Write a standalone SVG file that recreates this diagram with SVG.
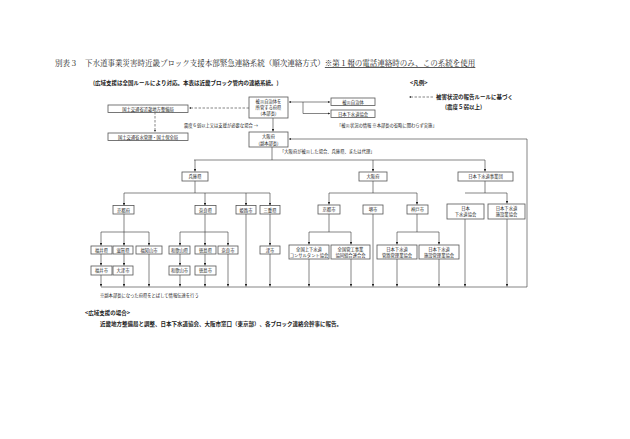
<svg xmlns="http://www.w3.org/2000/svg" width="630" height="439" viewBox="0 0 630 439">
<defs>
<marker id="a" viewBox="0 0 6 6" refX="6" refY="3" markerWidth="4" markerHeight="4" orient="auto-start-reverse"><path d="M0,0L6,3L0,6z" fill="#222"/></marker>
</defs>
<style>
text{font-family:"Noto Sans CJK JP",sans-serif;fill:#222}
.t{font-family:"Noto Serif CJK JP","Noto Sans CJK JP",serif;font-size:7.5px}
.s{font-size:4.3px;text-anchor:middle}
.n{font-size:4.3px}
.b{font-size:5.5px;font-weight:bold}
rect{fill:#fff;stroke:#555;stroke-width:0.8}
.c line,.c path{stroke:#333;stroke-width:0.6;fill:none}
.d{stroke-dasharray:2.5,1.5}
</style>
<rect x="0" y="0" width="630" height="439" style="fill:#fff;stroke:none"/>
<text class="t" x="55" y="66">別表３　下水道事業災害時近畿ブロック支援本部緊急連絡系統（順次連絡方式）<tspan text-decoration="underline">※第１報の電話連絡時のみ、この系統を使用</tspan></text>
<text class="b" x="93" y="85">(広域支援は全国ルールにより対応。本表は近畿ブロック管内の連絡系統。)</text>
<text class="b" x="410" y="85">&lt;凡例&gt;</text>
<text class="b" x="436" y="99">被害状況の報告ルールに基づく</text>
<text class="b" x="445" y="109">(震度５弱以上)</text>
<text class="n" x="184" y="127">震度６弱以上又は支援が必要な場合 →</text>
<text class="n" x="337" y="127">「被災状況の情報 ※本部長の省略に関わらず実施」</text>
<text class="n" x="280" y="153">「大阪府が被災した場合、兵庫県、または代理」</text>
<text class="n" x="100" y="297">※副本部長になった府県をとばして情報伝達を行う</text>
<text class="b" x="85" y="315">&lt;広域支援の場合&gt;</text>
<text class="b" x="100" y="326">近畿地方整備局と調整、日本下水道協会、大阪市窓口（東京部）、各ブロック連絡会幹事に報告。</text>
<g class="c">
<line class="d" x1="433" y1="97" x2="409" y2="97" marker-end="url(#a)"/>
<line class="d" x1="249" y1="108" x2="189" y2="108" marker-end="url(#a)"/>
<line class="d" x1="155" y1="112" x2="155" y2="132" marker-end="url(#a)"/>
<line x1="289" y1="102" x2="330" y2="102" marker-start="url(#a)" marker-end="url(#a)"/>
<path d="M303,102V113.5H330" marker-end="url(#a)"/>
<line x1="273" y1="118" x2="273" y2="131.5" marker-end="url(#a)"/>
<path d="M101,287H527V139H289" marker-end="url(#a)"/>
<path d="M272,147V160"/>
<line x1="194" y1="160" x2="485" y2="160"/>
<line x1="195" y1="160" x2="195" y2="171.5" marker-end="url(#a)"/>
<line x1="373" y1="160" x2="373" y2="171.5" marker-end="url(#a)"/>
<line x1="485" y1="160" x2="485" y2="171.5" marker-end="url(#a)"/>
<path d="M195,181V193M124,193H270"/>
<line x1="124" y1="193" x2="124" y2="205.5" marker-end="url(#a)"/>
<line x1="205" y1="193" x2="205" y2="205.5" marker-end="url(#a)"/>
<line x1="246" y1="193" x2="246" y2="205.5" marker-end="url(#a)"/>
<line x1="270" y1="193" x2="270" y2="205.5" marker-end="url(#a)"/>
<path d="M124,214V232M101,232H149M205,214V232M180,232H228"/>
<line x1="101" y1="232" x2="101" y2="245.5" marker-end="url(#a)"/>
<line x1="124" y1="232" x2="124" y2="245.5" marker-end="url(#a)"/>
<line x1="149" y1="232" x2="149" y2="245.5" marker-end="url(#a)"/>
<line x1="180" y1="232" x2="180" y2="245.5" marker-end="url(#a)"/>
<line x1="205" y1="232" x2="205" y2="245.5" marker-end="url(#a)"/>
<line x1="228" y1="232" x2="228" y2="245.5" marker-end="url(#a)"/>
<line x1="270" y1="214" x2="270" y2="245.5" marker-end="url(#a)"/>
<line x1="101" y1="254" x2="101" y2="265.5" marker-end="url(#a)"/>
<line x1="124" y1="254" x2="124" y2="265.5" marker-end="url(#a)"/>
<line x1="180" y1="254" x2="180" y2="265.5" marker-end="url(#a)"/>
<line x1="205" y1="254" x2="205" y2="265.5" marker-end="url(#a)"/>
<line x1="101" y1="275" x2="101" y2="286.5" marker-end="url(#a)"/>
<line x1="124" y1="275" x2="124" y2="286.5" marker-end="url(#a)"/>
<line x1="149" y1="254" x2="149" y2="286.5" marker-end="url(#a)"/>
<line x1="180" y1="275" x2="180" y2="286.5" marker-end="url(#a)"/>
<line x1="205" y1="275" x2="205" y2="286.5" marker-end="url(#a)"/>
<line x1="228" y1="254" x2="228" y2="286.5" marker-end="url(#a)"/>
<line x1="246" y1="214" x2="246" y2="286.5" marker-end="url(#a)"/>
<line x1="270" y1="254" x2="270" y2="286.5" marker-end="url(#a)"/>
<path d="M373,181V193M329,193H417"/>
<line x1="329" y1="193" x2="329" y2="204.5" marker-end="url(#a)"/>
<line x1="417" y1="193" x2="417" y2="204.5" marker-end="url(#a)"/>
<path d="M329,214V232M309,232H351M417,214V232M397,232H439"/>
<line x1="309" y1="232" x2="309" y2="244.5" marker-end="url(#a)"/>
<line x1="351" y1="232" x2="351" y2="244.5" marker-end="url(#a)"/>
<line x1="397" y1="232" x2="397" y2="244.5" marker-end="url(#a)"/>
<line x1="439" y1="232" x2="439" y2="244.5" marker-end="url(#a)"/>
<line x1="309" y1="259" x2="309" y2="286.5" marker-end="url(#a)"/>
<line x1="351" y1="259" x2="351" y2="286.5" marker-end="url(#a)"/>
<line x1="373" y1="214" x2="373" y2="286.5" marker-end="url(#a)"/>
<line x1="397" y1="259" x2="397" y2="286.5" marker-end="url(#a)"/>
<line x1="439" y1="259" x2="439" y2="286.5" marker-end="url(#a)"/>
<path d="M485,181V193M465,193H507"/>
<line x1="507" y1="193" x2="507" y2="203.5" marker-end="url(#a)"/>
<line x1="465" y1="219" x2="465" y2="286.5" marker-end="url(#a)"/>
<line x1="507" y1="219" x2="507" y2="286.5" marker-end="url(#a)"/>
</g>
<g id="kinki"><rect x="108" y="105" width="80" height="7.5"/><text class="s" x="148" y="110.5">国土交通省近畿地方整備局</text></g>
<g id="mlit"><rect x="108" y="133" width="80" height="7.5"/><text class="s" x="148" y="138.5">国土交通省水管理・国土保全局</text></g>
<g id="fuken"><rect x="249" y="97" width="39" height="21"/><text class="s" x="268.5" y="103">被災自治体を</text><text class="s" x="268.5" y="109">所管する府県</text><text class="s" x="268.5" y="115">(本部長)</text></g>
<g id="hisai"><rect x="331" y="98" width="44" height="7.5"/><text class="s" x="353" y="103.5">被災自治体</text></g>
<g id="jswa"><rect x="331" y="110" width="44" height="7.5"/><text class="s" x="353" y="115.5">日本下水道協会</text></g>
<g id="osaka-hq"><rect x="249" y="132" width="39" height="15"/><text class="s" x="268.5" y="138">大阪府</text><text class="s" x="268.5" y="144.5">(副本部長)</text></g>
<g id="hyogo"><rect x="182" y="172" width="26" height="9"/><text class="s" x="195" y="178">兵庫県</text></g>
<g id="osaka"><rect x="359" y="172" width="28" height="9"/><text class="s" x="373" y="178">大阪府</text></g>
<g id="jswa2"><rect x="458" y="172" width="55" height="9"/><text class="s" x="485.5" y="178">日本下水道事業団</text></g>
<g id="kyotofu"><rect x="113" y="205.5" width="21" height="8.5"/><text class="s" x="123.5" y="211.5">京都府</text></g>
<g id="nara"><rect x="195" y="205.5" width="21" height="8.5"/><text class="s" x="205.5" y="211.5">奈良県</text></g>
<g id="himeji"><rect x="236" y="205.5" width="20" height="8.5"/><text class="s" x="246" y="211.5">姫路市</text></g>
<g id="mie"><rect x="260" y="205.5" width="20" height="8.5"/><text class="s" x="270" y="211.5">三重県</text></g>
<g id="fukui"><rect x="91" y="246" width="21" height="8"/><text class="s" x="101.5" y="251.8">福井県</text></g>
<g id="shiga"><rect x="113" y="246" width="20" height="8"/><text class="s" x="123" y="251.8">滋賀県</text></g>
<g id="fukuchiyama"><rect x="136" y="246" width="26" height="8"/><text class="s" x="149" y="251.8">福知山市</text></g>
<g id="wakayama"><rect x="169" y="246" width="21" height="8"/><text class="s" x="179.5" y="251.8">和歌山県</text></g>
<g id="tokushima"><rect x="195" y="246" width="21" height="8"/><text class="s" x="205.5" y="251.8">徳島県</text></g>
<g id="narashi"><rect x="218" y="246" width="20" height="8"/><text class="s" x="228" y="251.8">奈良市</text></g>
<g id="tsu"><rect x="260" y="246" width="20" height="8"/><text class="s" x="270" y="251.8">津市</text></g>
<g id="fukuishi"><rect x="91" y="266" width="21" height="9"/><text class="s" x="101.5" y="272.2">福井市</text></g>
<g id="otsu"><rect x="113" y="266" width="20" height="9"/><text class="s" x="123" y="272.2">大津市</text></g>
<g id="wakayamashi"><rect x="169" y="266" width="21" height="9"/><text class="s" x="179.5" y="272.2">和歌山市</text></g>
<g id="tokushimashi"><rect x="195" y="266" width="21" height="9"/><text class="s" x="205.5" y="272.2">徳島市</text></g>
<g id="kyotoshi"><rect x="318" y="205" width="22" height="9"/><text class="s" x="329" y="211">京都市</text></g>
<g id="sakai"><rect x="363" y="205" width="20" height="9"/><text class="s" x="373" y="211">堺市</text></g>
<g id="kobe"><rect x="407" y="205" width="21" height="9"/><text class="s" x="417.5" y="211">神戸市</text></g>
<g id="jswa3"><rect x="447" y="204" width="37" height="15"/><text class="s" x="465.5" y="210">日本</text><text class="s" x="465.5" y="216">下水道協会</text></g>
<g id="shisetsu"><rect x="488" y="204" width="37" height="15"/><text class="s" x="506.5" y="210">日本下水道</text><text class="s" x="506.5" y="216">施設業協会</text></g>
<g id="consul"><rect x="289" y="245" width="40" height="14"/><text class="s" x="309" y="251">全国上下水道</text><text class="s" x="309" y="257">コンサルタント協会</text></g>
<g id="kankoji"><rect x="331" y="245" width="39" height="14"/><text class="s" x="350.5" y="251">全国管工事業</text><text class="s" x="350.5" y="257">協同組合連合会</text></g>
<g id="kanro"><rect x="377" y="245" width="40" height="14"/><text class="s" x="397" y="251">日本下水道</text><text class="s" x="397" y="257">管路管理業協会</text></g>
<g id="shisetsukanri"><rect x="419" y="245" width="40" height="14"/><text class="s" x="439" y="251">日本下水道</text><text class="s" x="439" y="257">施設管理業協会</text></g>
</svg>
